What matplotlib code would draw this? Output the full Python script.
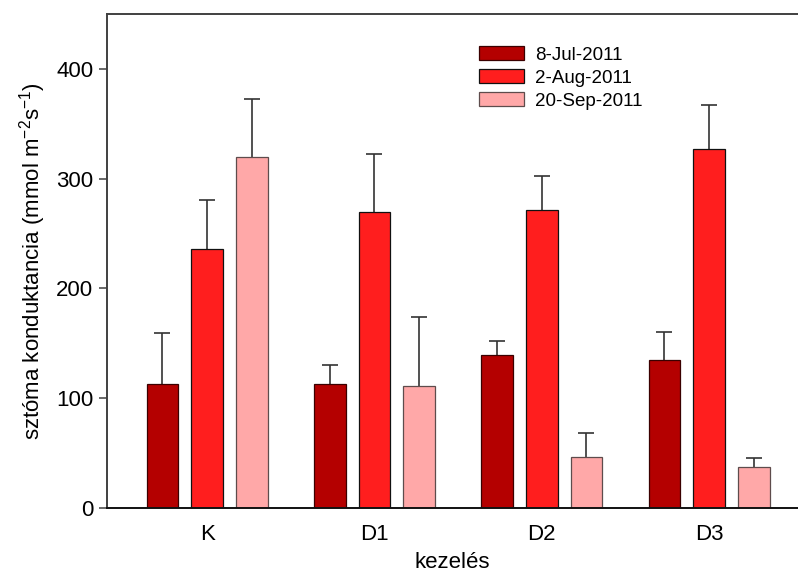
import numpy as np
import matplotlib.pyplot as plt

plt.rcParams['font.family'] = ['Liberation Sans', 'DejaVu Sans']

groups = ['K', 'D1', 'D2', 'D3']
dates = ['8-Jul-2011', '2-Aug-2011', '20-Sep-2011']

# mean stomatal conductance and SE for each date
jul_mean = [113, 113, 139, 135]
jul_err = [46, 17, 13, 25]
aug_mean = [236, 270, 272, 327]
aug_err = [45, 53, 31, 40]
sep_mean = [320, 111, 46, 37]
sep_err = [53, 63, 22, 8]

colors = ['#b40000', '#ff1e1e', '#ffa8a8']
edges = ['#3a0000', '#111111', '#5e4c4c']

fig = plt.figure(figsize=(7.98, 5.75), dpi=100)
ax = fig.add_axes([0.1337, 0.117, 0.866, 0.858])

x = np.arange(1, len(groups) + 1)
width = 0.19
offset = 0.267

series = [(jul_mean, jul_err), (aug_mean, aug_err), (sep_mean, sep_err)]
for i, (mean, err) in enumerate(series):
    pos = x + (i - 1) * offset
    ax.bar(pos, mean, width, color=colors[i], edgecolor=edges[i],
           linewidth=0.9, label=dates[i], zorder=2)
    # lower half of each bar hides the downward whisker
    ax.errorbar(pos, mean, yerr=err, fmt='none',
                ecolor='#333333', elinewidth=1.2, capsize=5.5, capthick=1.2,
                zorder=1)

ax.set_xlim(0.4, 4.53)
ax.set_ylim(0, 450)
ax.set_xticks(x)
ax.set_xticklabels(groups)
ax.set_yticks([0, 100, 200, 300, 400])
ax.tick_params(axis='x', length=0, labelsize=16, pad=12)
ax.tick_params(axis='y', direction='out', length=5.5, width=1.1,
               color='#404040', labelsize=16, pad=4)

for side in ['left', 'top', 'bottom']:
    ax.spines[side].set_color('#404040')
    ax.spines[side].set_linewidth(1.4)
ax.spines['bottom'].set_color('#111111')
ax.spines['right'].set_visible(False)

ax.set_ylabel('sztóma konduktancia (mmol m$^{\\mathregular{-2}}$s$^{\\mathregular{-1}}$)',
              fontsize=16, labelpad=6)
ax.set_xlabel('kezelés', fontsize=16, labelpad=5)

ax.legend(loc='upper left', bbox_to_anchor=(0.525, 0.955), frameon=False,
          fontsize=13.5, handlelength=2.4, handleheight=0.8, handletextpad=0.6,
          labelspacing=0.28, borderpad=0)

fig.savefig('out.png', dpi=100)
